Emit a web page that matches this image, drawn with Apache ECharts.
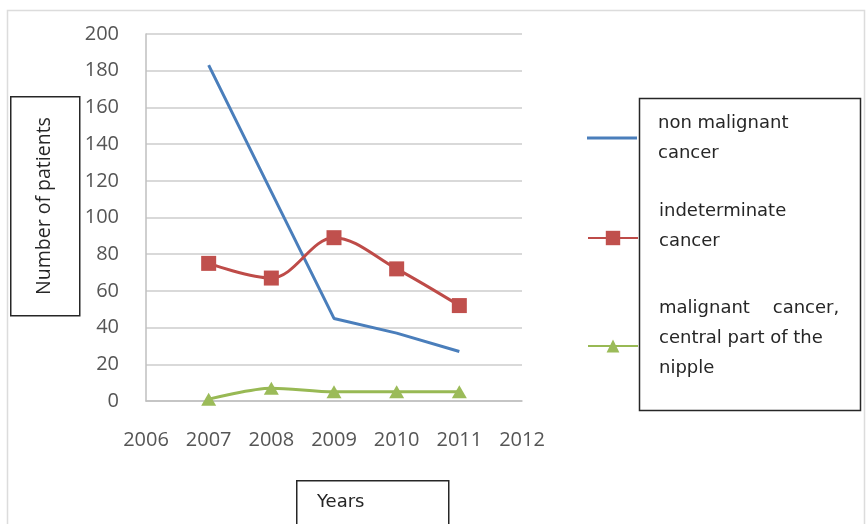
<!DOCTYPE html>
<html><head><meta charset="utf-8">
<script src="https://cdn.jsdelivr.net/npm/echarts@6/dist/echarts.min.js"></script>
<style>html,body{margin:0;padding:0;background:#fff}#c{width:866px;height:524px}</style>
</head><body><div id="c"></div>
<script>
const years = [2007, 2008, 2009, 2010, 2011];
const seriesNames = ['non malignant\ncancer', 'indeterminate\ncancer', 'malignant    cancer,\ncentral part of the\nnipple'];
const nonMalignant = [183, 114, 45, 37, 27];
const indeterminate = [75, 67, 89, 72, 52];
const malignantNipple = [1, 7, 5, 5, 5];
const yTicks = [0, 200, 20];
const xRange = [2006, 2012, 1];
const yAxisTitle = 'Number of patients';
const xAxisTitle = 'Years';

const pair = arr => years.map((y, i) => [y, arr[i]]);
const TICKFONT = '"Open Sans", sans-serif';
const BOXFONT = '"DejaVu Sans", sans-serif';
const chart = echarts.init(document.getElementById('c'), null, {renderer: 'canvas'});
const legendText = (extra) => ({
  fontFamily: BOXFONT, fontSize: 18, color: '#262626', lineHeight: 30,
  padding: [0, 0, 0, 16],
  rich: {g: {lineHeight: extra, fontSize: 1}}
});
const legendBase = {
  orient: 'vertical', left: 587, itemWidth: 50, itemHeight: 14, padding: 0,
  selectedMode: false
};
chart.setOption({
  animation: false,
  backgroundColor: '#fff',
  grid: {left: 146, right: 344, top: 34, bottom: 123},
  xAxis: {
    type: 'value', min: xRange[0], max: xRange[1], interval: xRange[2],
    axisLine: {show: true, lineStyle: {color: '#bfbfbf', width: 1.5}},
    axisTick: {show: false}, splitLine: {show: false},
    axisLabel: {margin: 29, fontFamily: TICKFONT, fontSize: 20, color: '#555555', formatter: v => String(v)}
  },
  yAxis: {
    type: 'value', min: yTicks[0], max: yTicks[1], interval: yTicks[2],
    axisLine: {show: true, lineStyle: {color: '#bfbfbf', width: 1.5}},
    axisTick: {show: false},
    splitLine: {lineStyle: {color: '#cccccc', width: 1.5}},
    axisLabel: {margin: 27, fontFamily: TICKFONT, fontSize: 20, color: '#555555'}
  },
  legend: [
    Object.assign({}, legendBase, {top: 108, itemHeight: 3,
      data: [{name: seriesNames[0], icon: 'rect'}],
      textStyle: legendText(0)}),
    Object.assign({}, legendBase, {top: 196, itemHeight: 18, data: [seriesNames[1]],
      formatter: n => n + '\n{g| }', textStyle: legendText(24)}),
    Object.assign({}, legendBase, {top: 293, itemHeight: 16, data: [seriesNames[2]],
      formatter: n => n + '\n{g| }', textStyle: legendText(16)})
  ],
  series: [
    {name: seriesNames[0], type: 'line', data: pair(nonMalignant), showSymbol: false, symbol: 'none',
     lineStyle: {color: '#4a7ebb', width: 3}, itemStyle: {color: '#4a7ebb'}},
    {name: seriesNames[1], type: 'line', data: pair(indeterminate), smooth: 0.35,
     symbol: 'rect', symbolSize: 15,
     lineStyle: {color: '#be4b48', width: 3}, itemStyle: {color: '#c0504d'}},
    {name: seriesNames[2], type: 'line', data: pair(malignantNipple), smooth: 0.3,
     symbol: 'triangle', symbolSize: [15, 13],
     lineStyle: {color: '#98b954', width: 3}, itemStyle: {color: '#9bbb59'}}
  ],
  graphic: [
    {type: 'rect', left: 5, top: 8, shape: {width: 857, height: 520}, style: {fill: 'none', stroke: '#dcdcdc', lineWidth: 1.5}, silent: true},
    {type: 'rect', left: 637, top: 96, shape: {width: 221, height: 312}, style: {fill: 'none', stroke: '#262626', lineWidth: 1.5}, silent: true},
    {type: 'rect', left: 10, top: 96, shape: {width: 69, height: 219}, style: {fill: '#fff', stroke: '#262626', lineWidth: 1.5}, z: 10},
    {type: 'text', x: 44, y: 206, rotation: Math.PI / 2, z: 11,
     style: {text: yAxisTitle, font: '19.5px ' + TICKFONT, fill: '#262626', textAlign: 'center', textVerticalAlign: 'middle'}},
    {type: 'rect', left: 296, top: 480, shape: {width: 152, height: 50}, style: {fill: '#fff', stroke: '#262626', lineWidth: 1.5}, z: 10},
    {type: 'text', x: 317, y: 502, z: 11,
     style: {text: xAxisTitle, font: '18px ' + BOXFONT, fill: '#262626', textAlign: 'left', textVerticalAlign: 'middle'}}
  ]
});
</script></body></html>
